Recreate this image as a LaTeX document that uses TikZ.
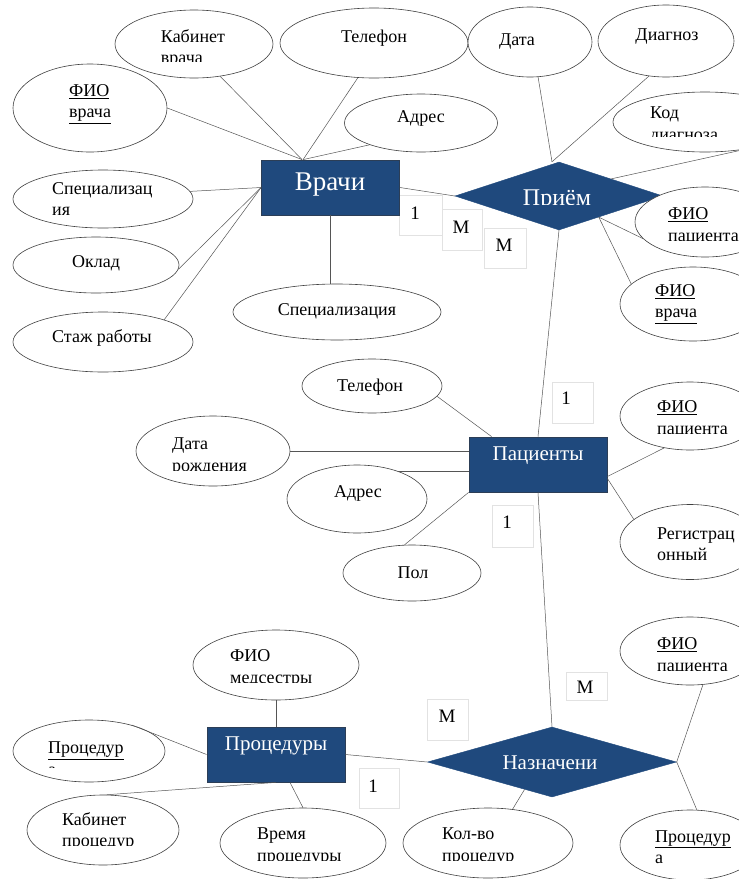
\documentclass[tikz,border=0pt]{standalone}
\usepackage{fontspec}
\setmainfont{Liberation Serif}
\usetikzlibrary{shapes.geometric}
\definecolor{entblue}{HTML}{1F497D}
\definecolor{entedge}{HTML}{2C3E56}
\definecolor{lnc}{HTML}{555555}
\definecolor{boxc}{HTML}{E2E2E2}
\begin{document}
\begin{tikzpicture}[x=1pt,y=-1pt,
  attr/.style={ellipse, draw=black!75, line width=0.6pt, inner sep=0pt, fill=white},
  atxt/.style={font=\fontsize{18}{21.5}\selectfont, align=left, inner sep=0pt},
  ent/.style={rectangle, fill=entblue, draw=entedge, line width=0.8pt, minimum width=138pt, minimum height=55pt, inner sep=0pt},
  etxt/.style={text=white, inner sep=0pt},
  rel/.style={diamond, fill=entblue, draw=entblue, inner sep=0pt},
  conn/.style={draw=lnc, line width=0.5pt},
  cbox/.style={draw=boxc, line width=0.6pt, inner sep=0pt},
  ctxt/.style={font=\fontsize{19}{21}\selectfont, inner sep=0pt}
]
\path[use as bounding box] (0,0) rectangle (739,879);
\clip (0,0) rectangle (739,879);
\fill[white] (0,0) rectangle (739,879);

% cardinality boxes
\node[cbox, minimum width=43pt, minimum height=40pt] (c1) at (420.5,215) {};
\node[cbox, minimum width=40pt, minimum height=41pt] (c2) at (462,229.5) {};
\node[cbox, minimum width=42pt, minimum height=40pt] (c3) at (505,248) {};
\node[cbox, minimum width=41pt, minimum height=41pt] (c4) at (572.5,402.5) {};
\node[cbox, minimum width=41pt, minimum height=42pt] (c5) at (512.5,526) {};
\node[cbox, minimum width=41pt, minimum height=28pt] (c6) at (586.5,686) {};
\node[cbox, minimum width=41pt, minimum height=41pt] (c7) at (447.5,719.5) {};
\node[cbox, minimum width=40pt, minimum height=40pt] (c8) at (379,788) {};
\node[ctxt] (k1) at (415,213) {1};
\node[ctxt] (k2) at (461,227) {M};
\node[ctxt] (k3) at (504,245) {M};
\node[ctxt] (k4) at (566,398) {1};
\node[ctxt] (k5) at (507,522) {1};
\node[ctxt] (k6) at (585,687) {M};
\node[ctxt] (k7) at (447,716) {M};
\node[ctxt] (k8) at (373,786) {1};

% entities and relationships
\node[ent] (vr) at (330.5,187.5) {};
\node[ent] (pa) at (538,464.5) {};
\node[ent] (pc) at (276,754.5) {};
\node[rel, minimum width=208pt, minimum height=68pt] (pr) at (559,196) {};
\node[rel, minimum width=249pt, minimum height=70pt] (na) at (552,762) {};

% attributes
\node[attr, minimum width=158pt, minimum height=68pt] (e1) at (194,44) {};
\node[attr, minimum width=188pt, minimum height=70pt] (e2) at (374,43) {};
\node[attr, minimum width=124pt, minimum height=70pt] (e3) at (530,42) {};
\node[attr, minimum width=136pt, minimum height=72pt] (e4) at (666,41) {};
\node[attr, minimum width=184pt, minimum height=60pt] (e5) at (705,122) {};
\node[attr, minimum width=153pt, minimum height=58pt] (e6) at (421,123) {};
\node[attr, minimum width=154pt, minimum height=88pt] (e7) at (90,108) {};
\node[attr, minimum width=180pt, minimum height=58pt] (e8) at (103,199) {};
\node[attr, minimum width=166pt, minimum height=56pt] (e9) at (96,265) {};
\node[attr, minimum width=180pt, minimum height=60pt] (e10) at (103,342) {};
\node[attr, minimum width=208pt, minimum height=56pt] (e11) at (337,312) {};
\node[attr, minimum width=140pt, minimum height=70pt] (e12) at (705,222) {};
\node[attr, minimum width=146pt, minimum height=74pt] (e13) at (693,304) {};
\node[attr, minimum width=140pt, minimum height=54pt] (e14) at (372,386) {};
\node[attr, minimum width=154pt, minimum height=70pt] (e15) at (213,451) {};
\node[attr, minimum width=140pt, minimum height=68pt] (e16) at (357,499) {};
\node[attr, minimum width=138pt, minimum height=56pt] (e17) at (412,573) {};
\node[attr, minimum width=140pt, minimum height=68pt] (e18) at (690,416) {};
\node[attr, minimum width=140pt, minimum height=75pt] (e19) at (690,542) {};
\node[attr, minimum width=140pt, minimum height=68pt] (e20) at (690,651) {};
\node[attr, minimum width=140pt, minimum height=70pt] (e21) at (690,845) {};
\node[attr, minimum width=170pt, minimum height=70pt] (e22) at (488,843) {};
\node[attr, minimum width=166pt, minimum height=70pt] (e23) at (276,665) {};
\node[attr, minimum width=152pt, minimum height=62pt] (e24) at (89,751) {};
\node[attr, minimum width=152pt, minimum height=70pt] (e25) at (103,830) {};
\node[attr, minimum width=166pt, minimum height=70pt] (e26) at (303,843) {};

% connectors
\draw[conn] (e1.-51) -- ([xshift=41pt]vr.north west);
\draw[conn] (e7.east) -- ([xshift=41pt]vr.north west);
\draw[conn] (e2.-115) -- ([xshift=42pt]vr.north west);
\draw[conn] (e6.-157) -- ([xshift=42pt]vr.north west);
\draw[conn] (e8.5) -- (vr.west);
\draw[conn] (e9.-3) -- (vr.west);
\draw[conn] (e10.20) -- (vr.west);
\draw[conn] (vr.south) -- (vr.south |- e11.north);
\draw[conn] (vr.east) -- (pr.west);
\draw[conn] (e3.-77) -- ([xshift=-7pt]pr.north);
\draw[conn] (e4.-116) -- ([xshift=-7pt]pr.north);
\draw[conn] (e5.-34) -- (pr.north east);
\draw[conn] (pr.-28) -- (e12.-165);
\draw[conn] (pr.-28) -- (e13.162);
\draw[conn] (pr.south) -- (pa.north);
\draw[conn] (e14.-9) -- ([xshift=23pt]pa.north west);
\draw[conn] (e15.east) -- (e15.east -| pa.west);
\draw[conn] (e16.34) -- (e16.34 -| pa.west);
\draw[conn] (e17.105) -- (pa.south west);
\draw[conn] ([yshift=-12pt]pa.east) -- (e18.-129);
\draw[conn] ([yshift=-14pt]pa.east) -- (e19.158);
\draw[conn] (pa.south) -- (na.north);
\draw[conn] (na.east) -- (e20.-69);
\draw[conn] (na.east) -- (e21.79);
\draw[conn] (na.-135) -- (e22.54);
\draw[conn] (pc.east) -- (na.west);
\draw[conn] (e23.south) -- (pc.north);
\draw[conn] (pc.west) -- (e24.31);
\draw[conn] (pc.south) -- (e25.84);
\draw[conn] ([xshift=14pt]pc.south) -- (e26.north);

% entity / relationship labels
\node[etxt, font=\fontsize{27}{30}\selectfont] (tvr) at (330,185) {Врачи};
\node[etxt, font=\fontsize{21}{24}\selectfont] (tpa) at (538,456) {Пациенты};
\node[etxt, font=\fontsize{21}{24}\selectfont] (tpc) at (276,746) {Процедуры};
\begin{scope}
\clip (500,170) rectangle (620,204);
\node[etxt, font=\fontsize{24}{27}\selectfont] (tpr) at (557,200) {Приём};
\end{scope}
\node[etxt, font=\fontsize{21}{24}\selectfont] (tna) at (550,763) {Назначени};

% attribute labels
\begin{scope}
\clip (120,20) rectangle (270,61);
\node[atxt] (t1) at (193,48.5) {Кабинет\\врача};
\end{scope}
\node[atxt] (t2) at (374,38) {Телефон};
\node[atxt] (t3) at (517,42) {Дата};
\node[atxt] (t4) at (667,37) {Диагноз};
\begin{scope}
\clip (640,100) rectangle (739,136.5);
\node[atxt, anchor=west] (t5) at (650,125.5) {Код\\диагноза};
\end{scope}
\node[atxt] (t6) at (421,118) {Адрес};
\node[atxt, anchor=west] (t7) at (69,104) {\underline{ФИО}\\\underline{врача}};
\node[atxt, anchor=west] (t8) at (52,199) {Специализац\\ия};
\node[atxt] (t9) at (96,263) {Оклад};
\node[atxt] (t10) at (102,338) {Стаж работы};
\node[atxt] (t11) at (337,311) {Специализация};
\begin{scope}
\clip (660,200) rectangle (739,240);
\node[atxt, anchor=west] (t12) at (668,226.5) {\underline{ФИО}\\пациента};
\end{scope}
\node[atxt, anchor=west] (t13) at (655,304) {\underline{ФИО}\\\underline{врача}};
\node[atxt] (t14) at (370,387) {Телефон};
\begin{scope}
\clip (165,430) rectangle (290,470);
\node[atxt, anchor=west] (t15) at (172,456.5) {Дата\\рождения};
\end{scope}
\node[atxt] (t16) at (358,493) {Адрес};
\node[atxt] (t17) at (413,573) {Пол};
\begin{scope}
\clip (650,395) rectangle (739,433);
\node[atxt, anchor=west] (t18) at (657,419.5) {\underline{ФИО}\\пациента};
\end{scope}
\node[atxt, anchor=west] (t19) at (657,544) {Регистрац\\онный};
\begin{scope}
\clip (650,630) rectangle (739,670);
\node[atxt, anchor=west] (t20) at (657,656.5) {\underline{ФИО}\\пациента};
\end{scope}
\node[atxt, anchor=west] (t21) at (655,847) {\underline{Процедур}\\а};
\begin{scope}
\clip (435,825) rectangle (560,860);
\node[atxt, anchor=west] (t22) at (442,846.5) {Кол-во\\процедур};
\end{scope}
\begin{scope}
\clip (220,640) rectangle (340,682);
\node[atxt, anchor=west] (t23) at (230,668.5) {ФИО\\медсестры};
\end{scope}
\begin{scope}
\clip (40,730) rectangle (160,767);
\node[atxt, anchor=west] (t24) at (48,758.5) {\underline{Процедур}\\а};
\end{scope}
\begin{scope}
\clip (55,810) rectangle (175,845);
\node[atxt, anchor=west] (t25) at (62,831.5) {Кабинет\\процедур};
\end{scope}
\begin{scope}
\clip (250,825) rectangle (380,860);
\node[atxt, anchor=west] (t26) at (257,846.5) {Время\\процедуры};
\end{scope}
\end{tikzpicture}
\end{document}
